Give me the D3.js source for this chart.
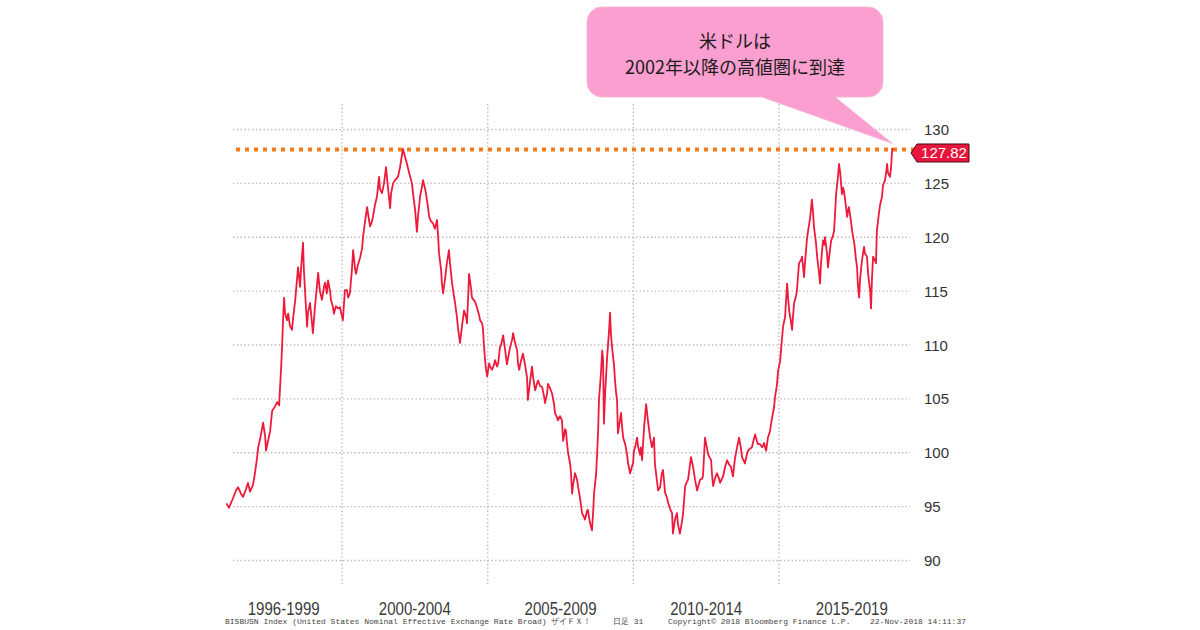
<!DOCTYPE html>
<html><head><meta charset="utf-8">
<script src="https://cdn.jsdelivr.net/npm/d3@7/dist/d3.min.js"></script>
<style>html,body{margin:0;padding:0;background:#fff;}svg{display:block;}</style>
</head><body>
<svg id="c" width="1200" height="630"></svg>
<script>
// ---- data ----
const years = [1996.03,1996.12,1996.26,1996.36,1996.43,1996.53,1996.60,1996.70,1996.77,1996.84,1996.94,1997.01,1997.08,1997.12,1997.18,1997.29,1997.36,1997.39,1997.46,1997.53,1997.60,1997.70,1997.77,1997.84,1997.87,1997.91,1997.94,1997.97,1998.01,1998.04,1998.11,1998.15,1998.21,1998.28,1998.32,1998.39,1998.45,1998.49,1998.56,1998.59,1998.66,1998.69,1998.73,1998.80,1998.83,1998.90,1998.97,1999.00,1999.07,1999.18,1999.24,1999.31,1999.38,1999.42,1999.48,1999.52,1999.59,1999.62,1999.69,1999.72,1999.79,1999.86,1999.93,1999.97,2000.03,2000.10,2000.17,2000.21,2000.27,2000.34,2000.38,2000.45,2000.48,2000.55,2000.62,2000.69,2000.72,2000.79,2000.86,2000.93,2000.96,2001.03,2001.06,2001.13,2001.20,2001.27,2001.30,2001.37,2001.44,2001.51,2001.58,2001.65,2001.68,2001.75,2001.82,2001.92,2001.99,2002.02,2002.09,2002.16,2002.23,2002.30,2002.40,2002.44,2002.51,2002.57,2002.61,2002.68,2002.75,2002.78,2002.85,2002.88,2002.95,2002.99,2003.05,2003.12,2003.19,2003.26,2003.30,2003.33,2003.40,2003.43,2003.47,2003.54,2003.60,2003.67,2003.71,2003.78,2003.84,2003.88,2003.95,2003.98,2004.05,2004.12,2004.19,2004.26,2004.29,2004.33,2004.36,2004.43,2004.46,2004.57,2004.63,2004.70,2004.74,2004.81,2004.84,2004.87,2004.91,2004.94,2004.98,2005.05,2005.08,2005.15,2005.22,2005.25,2005.32,2005.36,2005.42,2005.46,2005.53,2005.60,2005.66,2005.70,2005.77,2005.84,2005.87,2005.94,2006.01,2006.04,2006.08,2006.14,2006.21,2006.28,2006.35,2006.38,2006.45,2006.52,2006.56,2006.63,2006.69,2006.73,2006.80,2006.87,2006.93,2006.97,2007.04,2007.07,2007.14,2007.21,2007.28,2007.31,2007.38,2007.41,2007.48,2007.55,2007.59,2007.66,2007.69,2007.72,2007.76,2007.83,2007.86,2007.90,2007.93,2008.00,2008.07,2008.10,2008.17,2008.24,2008.31,2008.34,2008.41,2008.44,2008.51,2008.58,2008.62,2008.65,2008.72,2008.75,2008.79,2008.82,2008.89,2008.93,2008.96,2008.99,2009.03,2009.10,2009.17,2009.20,2009.23,2009.27,2009.34,2009.37,2009.41,2009.44,2009.47,2009.54,2009.58,2009.61,2009.65,2009.72,2009.78,2009.82,2009.89,2009.96,2009.99,2010.02,2010.06,2010.13,2010.16,2010.23,2010.26,2010.30,2010.37,2010.44,2010.50,2010.57,2010.64,2010.71,2010.74,2010.81,2010.85,2010.92,2010.98,2011.02,2011.09,2011.16,2011.19,2011.26,2011.33,2011.36,2011.43,2011.50,2011.53,2011.60,2011.67,2011.71,2011.78,2011.84,2011.88,2011.95,2011.98,2012.05,2012.12,2012.19,2012.26,2012.29,2012.36,2012.39,2012.46,2012.53,2012.56,2012.67,2012.70,2012.74,2012.80,2012.87,2012.94,2012.98,2013.04,2013.08,2013.15,2013.22,2013.29,2013.35,2013.42,2013.49,2013.56,2013.63,2013.70,2013.73,2013.80,2013.83,2013.90,2013.94,2014.01,2014.07,2014.14,2014.18,2014.25,2014.28,2014.35,2014.42,2014.49,2014.52,2014.56,2014.62,2014.69,2014.76,2014.83,2014.86,2014.93,2014.97,2015.04,2015.07,2015.11,2015.14,2015.21,2015.24,2015.28,2015.31,2015.35,2015.41,2015.45,2015.48,2015.52,2015.59,2015.62,2015.65,2015.69,2015.76,2015.79,2015.83,2015.86,2015.89,2015.93,2015.96,2016.00,2016.07,2016.13,2016.17,2016.20,2016.27,2016.31,2016.37,2016.41,2016.44,2016.51,2016.55,2016.58,2016.65,2016.68,2016.75,2016.79,2016.85,2016.89,2016.92,2016.96,2017.03,2017.06,2017.10,2017.16,2017.20,2017.23,2017.30,2017.34,2017.37,2017.40,2017.47,2017.51,2017.58,2017.61,2017.64,2017.68,2017.71,2017.75,2017.78,2017.85,2017.92,2017.95,2018.02,2018.06,2018.13,2018.16,2018.19,2018.23,2018.30,2018.33,2018.36,2018.43,2018.47,2018.54,2018.57,2018.64,2018.68,2018.71,2018.74,2018.81,2018.85,2018.87,2018.89];
const values = [95.3,94.9,95.8,96.5,96.8,96.2,95.9,96.6,97.2,96.4,97.0,98.1,99.5,100.5,101.2,102.8,101.5,100.2,101.1,102.0,103.9,104.3,104.7,104.4,106.0,108.0,109.8,112.0,114.4,113.0,112.3,112.9,111.8,111.4,112.5,114.1,116.0,117.2,115.4,117.0,119.5,117.0,115.0,111.7,113.0,113.9,112.0,111.1,113.5,116.7,115.0,114.2,115.4,115.8,114.8,116.0,115.0,114.2,113.5,112.9,113.6,113.4,113.5,113.0,112.3,115.1,115.1,114.4,114.8,117.0,118.8,117.0,116.6,117.5,118.1,119.0,120.0,121.5,122.8,121.5,121.0,121.5,121.9,123.0,123.8,125.6,124.5,124.1,125.0,126.5,124.5,122.7,124.0,125.0,125.3,125.6,126.5,127.0,128.2,127.5,126.8,126.0,125.0,124.0,122.5,120.5,122.0,123.8,124.8,125.3,124.5,124.1,122.8,121.9,121.5,121.3,120.8,121.6,120.0,118.5,117.0,115.7,114.8,116.2,117.6,118.8,117.5,115.7,114.6,113.9,112.5,111.6,110.2,111.8,113.2,112.6,112.0,114.5,116.6,115.2,114.4,114.0,113.5,112.8,112.3,112.0,111.4,110.0,108.6,107.8,107.1,108.3,108.0,107.7,108.2,108.6,108.0,108.3,109.8,110.0,110.9,109.5,108.2,108.8,109.8,110.5,111.1,110.2,109.5,108.3,107.7,108.5,109.2,108.2,107.0,104.9,106.5,108.0,107.0,105.8,106.4,106.7,106.2,106.1,105.3,104.6,105.5,106.4,106.0,105.5,104.5,103.7,103.3,103.0,103.4,103.0,101.1,102.2,102.0,101.0,100.0,99.0,98.1,96.2,97.0,98.1,97.5,96.9,95.8,94.4,94.0,93.8,94.6,94.7,93.5,92.8,94.5,96.2,98.0,99.6,102.0,104.9,107.5,109.5,108.6,102.7,105.5,108.9,111.5,113.0,111.0,109.8,108.0,106.7,105.5,104.9,101.8,103.0,103.7,102.5,101.4,100.8,99.9,99.0,98.1,98.8,99.0,100.2,100.5,101.4,100.6,99.8,100.5,99.3,102.4,104.5,103.0,101.5,100.5,101.4,99.0,97.4,96.5,96.8,98.1,98.4,96.3,95.8,95.4,94.8,94.4,92.5,93.8,94.4,93.4,92.5,93.6,94.4,96.9,97.3,97.5,99.0,99.6,98.7,97.5,96.5,97.2,97.5,97.6,97.8,101.4,100.4,99.9,99.3,98.0,96.9,97.6,98.1,97.6,97.2,97.6,97.8,98.7,99.3,98.9,98.7,97.8,99.5,100.5,101.4,100.3,99.6,99.2,99.0,99.9,100.2,100.4,100.5,101.3,101.7,101.0,100.8,100.8,100.5,100.9,100.5,100.2,101.4,102.0,103.2,104.2,105.1,106.3,107.6,108.5,109.5,110.8,111.7,112.6,114.0,115.7,114.5,113.2,112.2,111.4,112.6,113.9,114.6,115.1,116.3,117.6,117.9,118.2,117.2,116.3,117.5,118.8,119.8,120.6,121.8,123.5,122.3,121.0,119.5,118.2,116.8,115.7,117.5,119.7,119.3,120.0,118.5,117.2,118.8,119.7,120.1,120.6,122.0,124.0,125.8,126.8,126.0,124.0,124.6,124.3,122.8,121.9,122.5,122.8,121.5,120.6,119.5,118.8,118.0,117.2,115.5,114.4,116.0,117.9,119.1,118.5,118.2,116.6,115.0,113.4,116.0,118.2,117.8,117.6,120.6,122.2,123.0,123.8,124.8,125.3,126.0,126.8,126.0,125.6,126.5,127.5,128.3,127.82];
const yTicks = [90,95,100,105,110,115,120,125,130];
const gridYears = [2000,2005,2010,2015];
const periodLabels = ["1996-1999","2000-2004","2005-2009","2010-2014","2015-2019"];
const periodStarts = [1996,2000,2005,2010,2015];
const periodEnds = [2000,2005,2010,2015,2020];
const lastValue = 127.82;
const peakLevel = 128.15;
const calloutLines = ["米ドルは","2002年以降の高値圏に到達"];
const footerParts = [
  "BISBUSN Index (United States Nominal Effective Exchange Rate Broad) ザイＦＸ！",
  "日足 31",
  "Copyright© 2018 Bloomberg Finance L.P.",
  "22-Nov-2018 14:11:37"
];

// ---- helpers ----
function toDate(y){
  const yr = Math.floor(y);
  const start = new Date(yr,0,1), end = new Date(yr+1,0,1);
  return new Date(start.getTime() + (y-yr)*(end-start));
}
const data = years.map((y,i)=>({d:toDate(y), v:values[i]}));

const svg = d3.select("#c");
svg.append("rect").attr("width",1200).attr("height",630).attr("fill","#fff");

const x = d3.scaleTime().domain([new Date(1996,0,1), new Date(2020,0,1)]).range([225.5, 924.6]);
const y = d3.scaleLinear().domain([90,130]).range([560.5,129.5]);

const gridLeft = 233, gridRight = 910;

// horizontal gridlines
svg.append("g").selectAll("line").data(yTicks).join("line")
  .attr("x1",gridLeft).attr("x2",gridRight)
  .attr("y1",d=>y(d)).attr("y2",d=>y(d))
  .attr("stroke","#bababa").attr("stroke-width",1.4).attr("stroke-dasharray","1.4,2.4");

// vertical gridlines
svg.append("g").selectAll("line").data(gridYears).join("line")
  .attr("x1",d=>x(new Date(d,0,1))).attr("x2",d=>x(new Date(d,0,1)))
  .attr("y1",104).attr("y2",584)
  .attr("stroke","#bababa").attr("stroke-width",1.4).attr("stroke-dasharray","1.4,2.4");

// y labels
svg.append("g").selectAll("text").data(yTicks).join("text")
  .attr("x",924).attr("y",d=>y(d)+5.5)
  .attr("font-family","'Liberation Sans',Arial,sans-serif").attr("font-size",15)
  .attr("fill","#333").text(d=>d);

// x period labels
svg.append("g").selectAll("text").data(periodLabels).join("text")
  .attr("x",(d,i)=> (x(new Date(periodStarts[i],0,1)) + x(new Date(periodEnds[i],0,1)))/2 )
  .attr("y",615).attr("text-anchor","middle")
  .attr("font-family","'Liberation Sans Narrow','Arial Narrow','Liberation Sans',sans-serif")
  .attr("font-size",18).attr("fill","#3a3a3a")
  .attr("textLength",72).attr("lengthAdjust","spacingAndGlyphs").text(d=>d);

// orange dotted level line
svg.append("line")
  .attr("x1",236).attr("x2",915)
  .attr("y1",y(peakLevel)).attr("y2",y(peakLevel))
  .attr("stroke","#f47a1c").attr("stroke-width",4).attr("stroke-dasharray","4,5");

// callout
const cx0=587, cx1=883, cy0=7, cy1=97, r=15;
const tip=[x(data[data.length-1].d), y(peakLevel)-6];
const p = d3.path();
p.moveTo(cx0+r,cy0); p.lineTo(cx1-r,cy0); p.arcTo(cx1,cy0,cx1,cy0+r,r);
p.lineTo(cx1,cy1-r); p.arcTo(cx1,cy1,cx1-r,cy1,r);
p.lineTo(835,cy1); p.lineTo(tip[0],tip[1]); p.lineTo(762,cy1);
p.lineTo(cx0+r,cy1); p.arcTo(cx0,cy1,cx0,cy1-r,r);
p.lineTo(cx0,cy0+r); p.arcTo(cx0,cy0,cx0+r,cy0,r); p.closePath();
svg.append("path").attr("d",p.toString()).attr("fill","#fa9fcf").attr("stroke","#f5b6d8").attr("stroke-width",1);

svg.append("g").selectAll("text").data(calloutLines).join("text")
  .attr("x",735).attr("y",(d,i)=>48+i*26).attr("text-anchor","middle")
  .attr("font-family","'Noto Sans CJK JP',sans-serif").attr("font-size",18)
  .attr("fill","#1a1a1a").text(d=>d);

// series line
const line = d3.line().x(d=>x(d.d)).y(d=>y(d.v)).curve(d3.curveLinear);
svg.append("path").datum(data).attr("d",line)
  .attr("fill","none").attr("stroke","#ee1a3c").attr("stroke-width",1.8).attr("stroke-linejoin","round");

// last value tag
const ty = y(lastValue);
const tag = d3.path();
tag.moveTo(911,ty); tag.lineTo(917,ty-9); tag.lineTo(969,ty-9); tag.lineTo(969,ty+9); tag.lineTo(917,ty+9); tag.closePath();
svg.append("path").attr("d",tag.toString()).attr("fill","#e8153c").attr("stroke","#4a0a12").attr("stroke-width",1);
svg.append("text").attr("x",944).attr("y",ty+5.5).attr("text-anchor","middle")
  .attr("font-family","'Liberation Sans',Arial,sans-serif").attr("font-size",15)
  .attr("fill","#fff").text(lastValue.toFixed(2));

// footer
const footerX = [225,613,668,870];
svg.append("g").selectAll("text").data(footerParts).join("text")
  .attr("x",(d,i)=>footerX[i]).attr("y",624)
  .attr("font-family","'Liberation Mono','DejaVu Sans Mono',monospace").attr("font-size",8)
  .attr("fill","#444").text(d=>d);
</script>
</body></html>
